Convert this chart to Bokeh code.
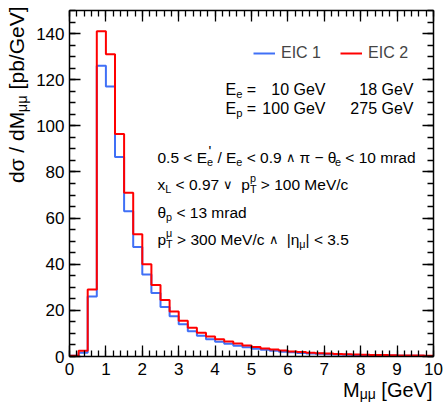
import numpy as np
from bokeh.plotting import figure
from bokeh.models import (Label, LinearAxis, FixedTicker, Legend, LegendItem,
                          Range1d, CustomJSTickFormatter)
from bokeh.embed import file_html
from bokeh.resources import INLINE

# ---------------- data ----------------
bin_start = 0.0
bin_width = 0.25
n_bins = 40
eic1 = [0.3, 1.6, 26, 126, 117, 86.5, 63, 47.5, 35.5, 27.5, 21.5, 17.5, 14, 11,
        9, 7.5, 6.4, 5.5, 4.7, 4.0, 3.4, 2.9, 2.45, 2.1, 1.8, 1.55, 1.33, 1.15,
        1.0, 0.87, 0.77, 0.68, 0.6, 0.53, 0.47, 0.42, 0.37, 0.33, 0.29, 0.26]
eic2 = [0.3, 2.5, 29, 141, 131, 96.5, 71, 53, 40, 31, 24.5, 19.5, 15.5, 12.5,
        10.3, 8.7, 7.5, 6.5, 5.6, 4.8, 4.1, 3.5, 3.0, 2.6, 2.2, 1.9, 1.65, 1.45,
        1.25, 1.1, 0.95, 0.85, 0.75, 0.67, 0.6, 0.54, 0.48, 0.43, 0.39, 0.35]
series_names = ["EIC 1", "EIC 2"]
x_major = list(range(0, 11))
y_major = list(range(0, 151, 20))
x_minor_step = 0.2
y_minor_step = 5

# ---------------- geometry ----------------
W, H = 446, 405
FL, FR, FT, FB = 69, 433, 10, 356   # pixel box of the histogram area
XMIN, XMAX, YMIN, YMAX = 0, 10, 0, 150

def px2data(px, py):
    return (XMIN + (px - FL) / (FR - FL) * (XMAX - XMIN),
            YMIN + (FB - py) / (FB - FT) * (YMAX - YMIN))

x_lo, y_hi = px2data(0, 0)
x_hi, y_lo = px2data(W, H)

# the Bokeh frame spans the whole canvas; axes sit at fixed data locations
p = figure(width=W, height=H, x_range=Range1d(x_lo, x_hi), y_range=Range1d(y_lo, y_hi),
           output_backend="svg", toolbar_location=None,
           min_border_left=0, min_border_right=0, min_border_top=0, min_border_bottom=0,
           x_axis_type=None, y_axis_type=None)
p.xgrid.visible = False
p.ygrid.visible = False
p.outline_line_color = None
p.background_fill_color = "white"
p.border_fill_color = "white"

xt = FixedTicker(ticks=x_major, minor_ticks=list(np.arange(XMIN, XMAX + 1e-9, x_minor_step)))
yt = FixedTicker(ticks=y_major, minor_ticks=list(np.arange(YMIN, YMAX + 1e-9, y_minor_step)))

def make_axis(ticker, loc, bounds, labels):
    ax = LinearAxis(ticker=ticker, fixed_location=loc, bounds=bounds)
    ax.axis_line_color = "black"
    ax.axis_line_width = 1.5
    ax.major_tick_in = 11
    ax.major_tick_out = 0
    ax.minor_tick_in = 6
    ax.minor_tick_out = 0
    ax.major_tick_line_width = 1.3
    ax.minor_tick_line_width = 1.3
    ax.major_tick_line_color = "black"
    ax.minor_tick_line_color = "black"
    ax.major_label_text_font = "Liberation Sans"
    ax.major_label_text_font_size = "17px"
    ax.major_label_text_color = "black"
    if not labels:
        ax.formatter = CustomJSTickFormatter(code="return ''")
        ax.major_label_text_font_size = "1px"
        ax.major_label_standoff = 0
    return ax

ax_b = make_axis(xt, YMIN, (XMIN, XMAX), True)
ax_b.major_label_standoff = 6
ax_l = make_axis(yt, XMIN, (YMIN, YMAX), True)
ax_l.major_label_standoff = 5
ax_t = make_axis(xt, YMAX, (XMIN, XMAX), False)
ax_r = make_axis(yt, XMAX, (YMIN, YMAX), False)
p.add_layout(ax_b, "below")
p.add_layout(ax_l, "left")
p.add_layout(ax_t, "above")
p.add_layout(ax_r, "right")

edges = bin_start + np.arange(n_bins + 1) * bin_width
r1 = p.step(x=edges, y=np.append(eic1, eic1[-1]), mode="after",
            line_color="#4070f6", line_width=2)
r2 = p.step(x=edges, y=np.append(eic2, eic2[-1]), mode="after",
            line_color="#ff0000", line_width=2)

legend = Legend(items=[LegendItem(label=series_names[0], renderers=[r1]),
                       LegendItem(label=series_names[1], renderers=[r2])],
                orientation="horizontal", location=(253, H - 62),
                glyph_width=22, glyph_height=16, label_height=16, label_standoff=6,
                spacing=19, padding=0, margin=0, border_line_alpha=0,
                background_fill_alpha=0, label_text_font="Liberation Sans",
                label_text_font_size="16px")
p.add_layout(legend)

# ---------------- rich text helper ----------------
CW = {' ': 278, '.': 278, ',': 278, '/': 278, "'": 191, '|': 260, '[': 278, ']': 278,
      '<': 584, '>': 584, '=': 584, '−': 584, '-': 333,
      'C': 722, 'E': 667, 'G': 778, 'I': 278, 'L': 556, 'M': 833, 'T': 611, 'V': 667,
      'a': 556, 'b': 556, 'c': 500, 'd': 556, 'e': 556, 'm': 833, 'p': 556, 'r': 333,
      'x': 500, 'u': 556, 'μ': 576, 'θ': 556, 'η': 556, 'π': 600, 'σ': 600,
      '∧': 700, '∨': 700}
for d in "0123456789":
    CW[d] = 556

def tw(s, fs):
    return sum(CW.get(ch, 556) for ch in s) * fs / 1000.0

SUB = 0.7
SMALL = 0.85

def seg_size(kind, fs):
    return fs * (SUB if kind in ("sub", "sup", "ss") else SMALL if kind == "sm" else 1.0)

def seg_width(seg, fs):
    kind = seg[0]
    if kind == "ss":
        return max(tw(seg[1], fs * SUB), tw(seg[2], fs * SUB))
    return tw(seg[1], seg_size(kind, fs))

def rich_width(segs, fs):
    return sum(seg_width(s, fs) for s in segs)

def put(txt, px, py, fs, angle, ax_, ay_):
    # svg collapses leading/trailing blanks: advance over them explicitly
    lead = len(txt) - len(txt.lstrip(" "))
    shift = tw(" " * lead, fs)
    core = txt.strip(" ")
    if not core:
        return
    x, y = px2data(px + ax_ * shift, py + ay_ * shift)
    p.add_layout(Label(x=x, y=y, x_units="data", y_units="data", text=core,
                       angle=angle, text_align="left", text_baseline="alphabetic",
                       text_font="Liberation Sans", text_font_size=f"{fs:.1f}px",
                       text_color="black"))

def rich(segs, px, py, fs, angle=0.0, sub_off=0.28):
    ax_, ay_ = np.cos(angle), -np.sin(angle)   # advance direction (pixels)
    dx_, dy_ = np.sin(angle), np.cos(angle)    # "down" direction (pixels)
    pos = 0.0
    for seg in segs:
        kind = seg[0]
        bx, by = px + ax_ * pos, py + ay_ * pos
        if kind == "n":
            put(seg[1], bx, by, fs, angle, ax_, ay_)
        elif kind == "sm":
            put(seg[1], bx, by, fs * SMALL, angle, ax_, ay_)
        elif kind == "sub":
            off = sub_off * fs
            put(seg[1], bx + dx_ * off, by + dy_ * off, fs * SUB, angle, ax_, ay_)
        elif kind == "sup":
            off = -0.42 * fs
            put(seg[1], bx + dx_ * off, by + dy_ * off, fs * SUB, angle, ax_, ay_)
        else:
            off = sub_off * fs
            put(seg[1], bx + dx_ * off, by + dy_ * off, fs * SUB, angle, ax_, ay_)
            off = -0.42 * fs
            sx = 1.5 if seg[2] == "'" else 0.0
            put(seg[2], bx + ax_ * sx + dx_ * off, by + ay_ * sx + dy_ * off,
                fs * (0.95 if seg[2] == "'" else SUB), angle, ax_, ay_)
        pos += seg_width(seg, fs)

FS = 16
# beam energies
rich([("n", "E"), ("sub", "e"), ("n", " =")], 225, 89, FS)
rich([("n", "E"), ("sub", "p"), ("n", " =")], 225, 108, FS)
for txt, right, base in (("10 GeV", 325, 89), ("18 GeV", 413, 89),
                         ("100 GeV", 325, 108), ("275 GeV", 413, 108)):
    rich([("n", txt)], right - tw(txt, FS), base, FS)

# selection cuts
FS2 = 15.5
rich([("n", "0.5 < E"), ("ss", "e", "'"), ("n", " / E"), ("sub", "e"),
      ("n", " < 0.9 "), ("sm", "∧"), ("n", " π − θ"), ("sub", "e"),
      ("n", " < 10 mrad")], 157, 157, FS2)
rich([("n", "x"), ("sub", "L"), ("n", " < 0.97 "), ("sm", "∨"), ("n", "  p"),
      ("ss", "T", "p"), ("n", " > 100 MeV/c")], 157, 184, FS2)
rich([("n", "θ"), ("sub", "p"), ("n", " < 13 mrad")], 157, 212, FS2)
rich([("n", "p"), ("ss", "T", "μ"), ("n", " > 300 MeV/c "), ("sm", "∧"),
      ("n", "  |η"), ("sub", "μ"), ("n", "| < 3.5")], 157, 239, FS2)

# axis titles
FTX = 20
xseg = [("n", "M"), ("sub", "μμ"), ("n", " [GeV]")]
rich(xseg, 432 - rich_width(xseg, FTX), 389, FTX, sub_off=0.22)
FTY = 21
yseg = [("n", "dσ / dM"), ("sub", "μμ"), ("n", " [pb/GeV]")]
rich(yseg, 16, 6 + rich_width(yseg, FTY), FTY, angle=np.pi / 2)

open("out.html", "w").write(file_html(p, INLINE))
